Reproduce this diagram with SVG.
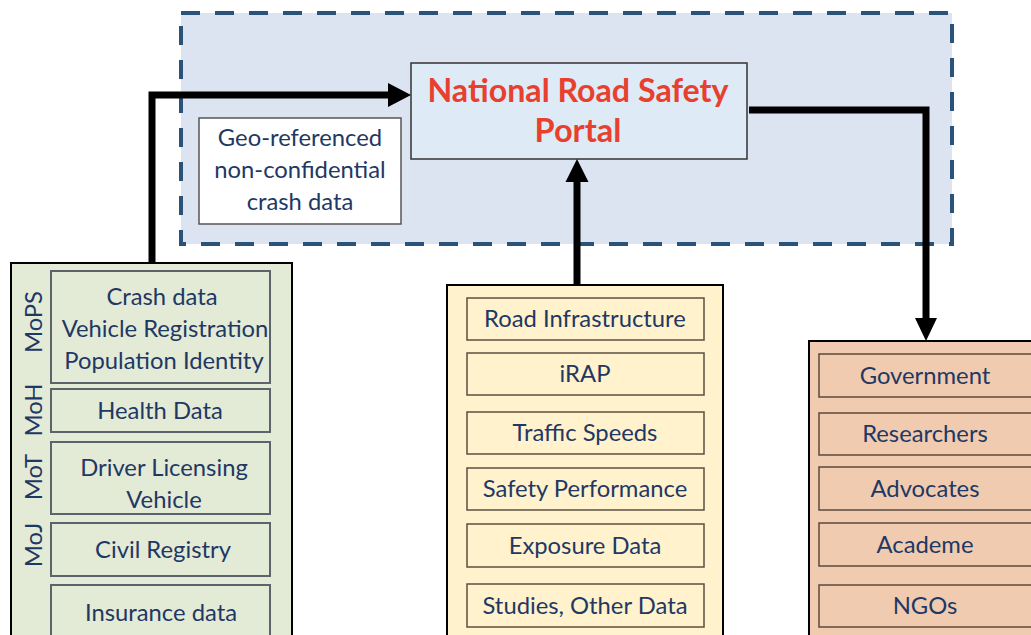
<svg xmlns="http://www.w3.org/2000/svg" width="1031" height="635" viewBox="0 0 1031 635">
<style>
.t{font-family:Lato,"Liberation Sans",sans-serif;font-size:23.8px;fill:#1f3864;text-anchor:middle}
.title{font-family:Lato,"Liberation Sans",sans-serif;font-size:32.5px;font-weight:bold;fill:#e8402f;text-anchor:middle}
.gi{fill:#e3ebd7;stroke:#5c636b;stroke-width:2}
.yi{fill:#fff2cc;stroke:#5a5040;stroke-width:1.5}
.pi{fill:#f0cbaf;stroke:#5a4a40;stroke-width:1.5}
.conn{fill:none;stroke:#000;stroke-width:7}
</style>
<rect width="1031" height="635" fill="#fff"/>
<g id="boundary">
<rect x="181" y="13" width="771" height="231" fill="#dce3f1" stroke="#2b5279" stroke-width="4" stroke-dasharray="19 15"/>
</g>
<g id="geo">
<rect x="199" y="118" width="202" height="106" fill="#fff" stroke="#555" stroke-width="1.5"/>
<text class="t" x="300" y="146">Geo-referenced</text>
<text class="t" x="300" y="178">non-confidential</text>
<text class="t" x="300" y="210">crash data</text>
</g>
<g id="portal">
<rect x="411" y="63" width="336" height="96" fill="#deebf7" stroke="#333" stroke-width="1.5"/>
<text class="title" x="578" y="102" textLength="301" lengthAdjust="spacingAndGlyphs">National Road Safety</text>
<text class="title" x="578" y="142">Portal</text>
</g>
<g id="sources">
<rect x="11" y="263" width="281" height="380" fill="#e3ebd7" stroke="#000" stroke-width="2"/>
<rect class="gi" x="51" y="271" width="219" height="112"/>
<rect class="gi" x="51" y="389" width="219" height="43"/>
<rect class="gi" x="51" y="442" width="219" height="72"/>
<rect class="gi" x="51" y="523" width="219" height="53"/>
<rect class="gi" x="51" y="585" width="219" height="60"/>
<text class="t" x="162" y="305">Crash data</text>
<text class="t" x="165" y="337">Vehicle Registration</text>
<text class="t" x="164" y="369">Population Identity</text>
<text class="t" x="160" y="419">Health Data</text>
<text class="t" x="164" y="476">Driver Licensing</text>
<text class="t" x="164" y="508">Vehicle</text>
<text class="t" x="163" y="558">Civil Registry</text>
<text class="t" x="161" y="621">Insurance data</text>
<text class="t" transform="translate(42,322) rotate(-90)">MoPS</text>
<text class="t" transform="translate(42,410) rotate(-90)">MoH</text>
<text class="t" transform="translate(42,477) rotate(-90)">MoT</text>
<text class="t" transform="translate(42,545) rotate(-90)">MoJ</text>
</g>
<g id="datasets">
<rect x="447" y="285" width="276" height="360" fill="#fff2cc" stroke="#000" stroke-width="2"/>
<rect class="yi" x="467" y="298" width="237" height="42"/>
<rect class="yi" x="467" y="353" width="237" height="42"/>
<rect class="yi" x="467" y="412" width="237" height="42"/>
<rect class="yi" x="467" y="468" width="237" height="42"/>
<rect class="yi" x="467" y="524" width="237" height="43"/>
<rect class="yi" x="467" y="584" width="237" height="43"/>
<text class="t" x="585" y="327">Road Infrastructure</text>
<text class="t" x="585" y="382">iRAP</text>
<text class="t" x="585" y="441">Traffic Speeds</text>
<text class="t" x="585" y="497">Safety Performance</text>
<text class="t" x="585" y="554">Exposure Data</text>
<text class="t" x="585" y="614">Studies, Other Data</text>
</g>
<g id="users">
<rect x="809" y="341" width="240" height="310" fill="#f0cbaf" stroke="#000" stroke-width="2"/>
<rect class="pi" x="819" y="354" width="230" height="43"/>
<rect class="pi" x="819" y="413" width="230" height="42"/>
<rect class="pi" x="819" y="467" width="230" height="43"/>
<rect class="pi" x="819" y="523" width="230" height="43"/>
<rect class="pi" x="819" y="585" width="230" height="42"/>
<text class="t" x="925" y="384">Government</text>
<text class="t" x="925" y="442">Researchers</text>
<text class="t" x="925" y="497">Advocates</text>
<text class="t" x="925" y="553">Academe</text>
<text class="t" x="925" y="614">NGOs</text>
</g>
<g id="connectors">
<path class="conn" d="M152,263 V95 H390"/>
<path d="M388,83 L411,95 L388,107 Z" fill="#000"/>
<path class="conn" d="M577,285 V180"/>
<path d="M565.5,182 L577,159 L588.5,182 Z" fill="#000"/>
<path class="conn" d="M749,110 H926 V320"/>
<path d="M915,318 L926,341 L937,318 Z" fill="#000"/>
</g>
</svg>
